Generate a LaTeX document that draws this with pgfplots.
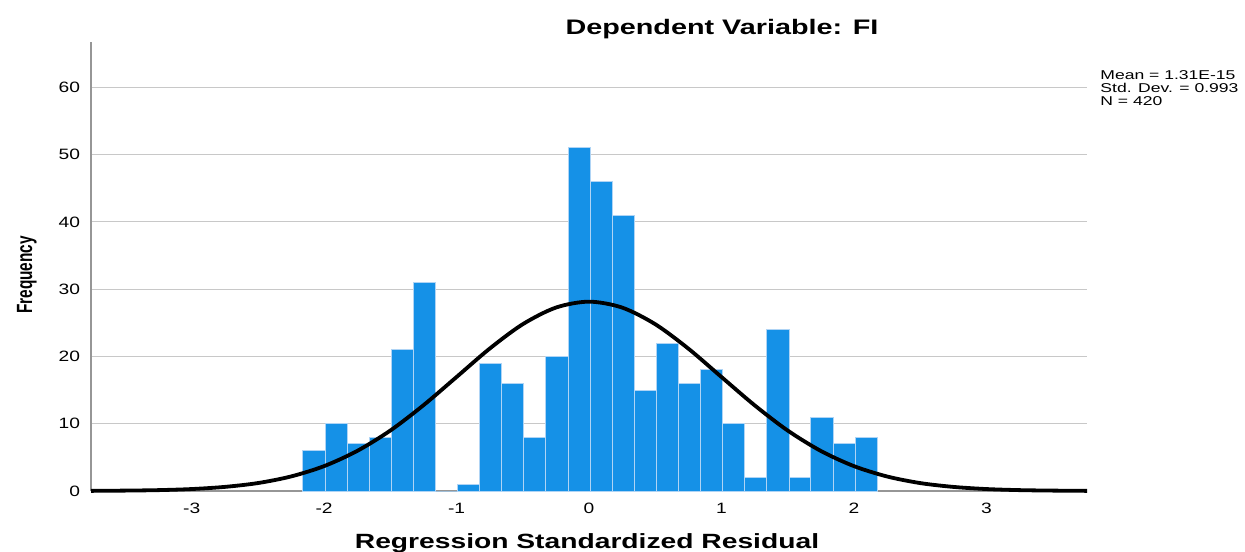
\documentclass[border=0pt]{standalone}
\usepackage{fontspec}
\setmainfont{Liberation Sans}
\newfontfamily\wide[FakeStretch=1.37]{Liberation Sans}
\newfontfamily\tickf[FakeStretch=1.28]{Liberation Sans}
\newfontfamily\narrow[FakeStretch=0.70]{Liberation Sans}
\usepackage{pgfplots}
\pgfplotsset{compat=1.18}
\definecolor{spssblue}{RGB}{21,145,231}
\definecolor{spssedge}{RGB}{175,212,245}
\definecolor{gridgray}{RGB}{200,200,200}
\definecolor{axisgray}{RGB}{150,150,150}

% residual histogram: left bin edges, last row is the right edge
\pgfplotstableread{
x      y
-2.160 6
-1.993 10
-1.826 7
-1.660 8
-1.493 21
-1.326 31
-1.159 0
-0.992 1
-0.826 19
-0.659 16
-0.492 8
-0.325 20
-0.158 51
0.008  46
0.175  41
0.342  15
0.509  22
0.676  16
0.842  18
1.009  10
1.176  2
1.343  24
1.510  2
1.676  11
1.843  7
2.010  8
2.177  0
}\histdata

% fitted normal curve
\pgfplotstableread{
x     y
-3.76 0.02
-3.50 0.06
-3.25 0.13
-3.00 0.29
-2.75 0.61
-2.50 1.18
-2.25 2.16
-2.00 3.70
-1.75 5.96
-1.50 8.99
-1.25 12.75
-1.00 16.95
-0.75 21.17
-0.50 24.80
-0.25 27.27
0.00  28.15
0.25  27.27
0.50  24.80
0.75  21.17
1.00  16.95
1.25  12.75
1.50  8.99
1.75  5.96
2.00  3.70
2.25  2.16
2.50  1.18
2.75  0.61
3.00  0.29
3.25  0.13
3.50  0.06
3.76  0.02
}\normdata

\begin{document}
\begin{tikzpicture}
\path[use as bounding box] (-45.5pt,-30pt) rectangle (577pt,245.5pt);
\begin{axis}[
    name=ax,
    at={(0,0)}, anchor=south west,
    scale only axis,
    width=498pt, height=224.65pt,
    xmin=-3.76, xmax=3.76,
    ymin=0, ymax=66.8,
    axis lines=left,
    axis line style={axisgray, line width=0.7pt, -},
    xtick={-3,-2,-1,0,1,2,3},
    ytick={0,10,20,30,40,50,60},
    major tick length=0pt,
    ymajorgrids=true,
    grid style={gridgray, line width=0.5pt},
    /pgf/number format/assume math mode=true,
    tick label style={font=\tickf\fontsize{7.5}{9}\selectfont},
    xticklabel style={yshift=-2.5pt},
    yticklabel style={xshift=-2pt},
    clip=false,
]
\addplot[ybar interval, fill=spssblue, draw=spssedge, line width=0.5pt]
    table[x=x, y=y] {\histdata};
\addplot[black, line width=1.9pt, smooth, mark=none]
    table[x=x, y=y] {\normdata};

\node[anchor=base, font=\wide\bfseries\fontsize{10.5}{12}\selectfont]
    at (rel axis cs:0.6335,1.0149) {Dependent Variable: FI};
\node[anchor=base, font=\wide\bfseries\fontsize{10.3}{12}\selectfont]
    at (rel axis cs:0.498,-0.1269) {Regression Standardized Residual};
\node[anchor=base, rotate=90, font=\narrow\bfseries\fontsize{11}{12}\selectfont]
    at (rel axis cs:-0.0592,0.4808) {Frequency};
\node[anchor=base west, inner sep=0pt, font=\wide\fontsize{6.4}{7}\selectfont]
    at (rel axis cs:1.0131,0.915) {Mean = 1.31E-15};
\node[anchor=base west, inner sep=0pt, font=\wide\fontsize{6.4}{7}\selectfont]
    at (rel axis cs:1.0131,0.886) {Std. Dev. = 0.993};
\node[anchor=base west, inner sep=0pt, font=\wide\fontsize{6.4}{7}\selectfont]
    at (rel axis cs:1.0131,0.857) {N = 420};
\end{axis}
\end{tikzpicture}
\end{document}
